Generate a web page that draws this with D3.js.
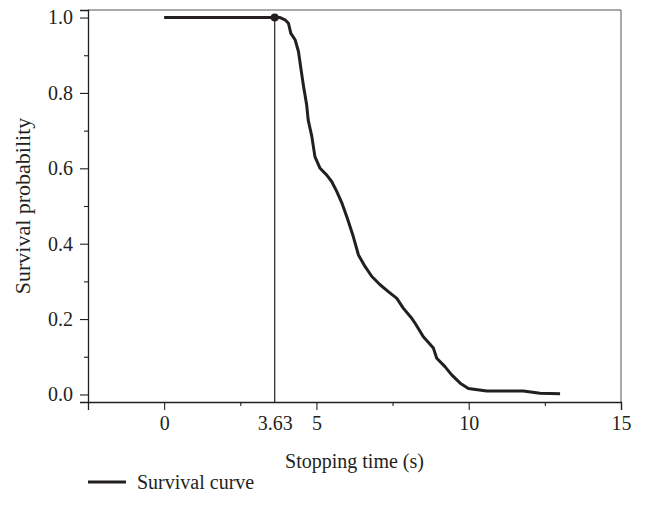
<!DOCTYPE html>
<html>
<head>
<meta charset="utf-8">
<script src="https://cdn.jsdelivr.net/npm/d3@7"></script>
<style>
  html, body { margin: 0; padding: 0; background: #fff; }
  svg { display: block; }
  text { font-family: "Liberation Serif", "DejaVu Serif", serif; fill: #231f20; }
</style>
</head>
<body>
<svg id="chart" width="645" height="510"></svg>
<script>
// ---- data ----
const timeValues = [0, 3.63, 3.81, 3.97, 4.08, 4.16, 4.30, 4.41, 4.49, 4.57, 4.68, 4.73, 4.85, 4.95,
  5.12, 5.34, 5.50, 5.67, 5.83, 6.02, 6.21, 6.38, 6.60, 6.82, 7.09, 7.36, 7.64, 7.85, 8.13, 8.24,
  8.51, 8.84, 8.95, 9.22, 9.44, 9.72, 9.99, 10.59, 11.79, 12.34, 13.0];
const survivalValues = [1.0, 1.0, 1.0, 0.994, 0.985, 0.958, 0.941, 0.910, 0.865, 0.821, 0.768, 0.728, 0.684, 0.631,
  0.600, 0.582, 0.565, 0.538, 0.509, 0.466, 0.419, 0.370, 0.339, 0.313, 0.291, 0.273, 0.255, 0.229, 0.202, 0.189,
  0.153, 0.123, 0.096, 0.074, 0.052, 0.030, 0.016, 0.009, 0.009, 0.003, 0.002];
const markerTime = 3.63;
const markerSurvival = 1.0;
const xTickValues = [0, 3.63, 5, 10, 15];
const xMinorTicks = [2.5, 7.5, 12.5];
const yTickValues = [0, 0.2, 0.4, 0.6, 0.8, 1.0];
const yMinorTicks = [0.1, 0.3, 0.5, 0.7, 0.9];
const xDomain = [-2.5, 15];
const yDomain = [-0.02, 1.02];
const xTitle = "Stopping time (s)";
const yTitle = "Survival probability";
const legendLabel = "Survival curve";

(function () {
  const ink = "#231f20";
  const font = "Liberation Serif";
  const mLeft = 88, mRight = 621, mTop = 10, mBottom = 402;
  const svg = d3.select("#chart");

  const x = d3.scaleLinear().domain(xDomain).range([mLeft, mRight]);
  const y = d3.scaleLinear().domain(yDomain).range([mBottom, mTop]);

  // frame (top and right)
  svg.append("path")
    .attr("d", `M${mLeft},${mTop}H${mRight}V${mBottom}`)
    .attr("fill", "none").attr("stroke", "#555").attr("stroke-width", 1);

  // x axis
  const xAxis = svg.append("g").attr("transform", `translate(0,${mBottom})`)
    .call(d3.axisBottom(x).tickValues(xTickValues).tickSize(8).tickPadding(6)
      .tickFormat(d => d === markerTime ? "3.63" : d3.format("d")(d)));
  xAxis.selectAll(".tick line").filter(d => d === markerTime).remove();
  svg.append("g").attr("transform", `translate(0,${mBottom})`)
    .call(d3.axisBottom(x).tickValues(xMinorTicks).tickSize(4).tickFormat(""))
    .select(".domain").remove();

  // y axis
  svg.append("g").attr("transform", `translate(${mLeft},0)`)
    .call(d3.axisLeft(y).tickValues(yTickValues).tickSize(8).tickPadding(7).tickFormat(d3.format(".1f")));
  svg.append("g").attr("transform", `translate(${mLeft},0)`)
    .call(d3.axisLeft(y).tickValues(yMinorTicks).tickSize(4).tickFormat(""))
    .select(".domain").remove();

  svg.selectAll(".domain").attr("stroke", ink).attr("stroke-width", 1.3);
  svg.selectAll(".tick line").attr("stroke", ink).attr("stroke-width", 1.1);
  svg.selectAll(".tick text").attr("font-size", 20).attr("font-family", font).attr("fill", ink);

  // vertical marker line
  svg.append("line")
    .attr("x1", x(markerTime)).attr("x2", x(markerTime))
    .attr("y1", y(markerSurvival)).attr("y2", mBottom)
    .attr("stroke", ink).attr("stroke-width", 1.2);

  // survival curve
  const pts = timeValues.map((t, i) => [t, survivalValues[i]]);
  svg.append("path")
    .datum(pts)
    .attr("fill", "none").attr("stroke", ink).attr("stroke-width", 3)
    .attr("stroke-linejoin", "round")
    .attr("d", d3.line().x(d => x(d[0])).y(d => y(d[1])).curve(d3.curveLinear));

  // marker dot
  svg.append("circle")
    .attr("cx", x(markerTime)).attr("cy", y(markerSurvival)).attr("r", 4)
    .attr("fill", ink);

  // axis titles
  svg.append("text")
    .attr("x", (mLeft + mRight) / 2).attr("y", 461).attr("dy", "0.35em")
    .attr("text-anchor", "middle").attr("font-size", 20).text(xTitle);
  svg.append("text")
    .attr("transform", `translate(22,${(mTop + mBottom) / 2}) rotate(-90)`)
    .attr("dy", "0.35em").attr("text-anchor", "middle").attr("font-size", 22).text(yTitle);

  // legend
  svg.append("line")
    .attr("x1", 88).attr("x2", 126).attr("y1", 482).attr("y2", 482)
    .attr("stroke", ink).attr("stroke-width", 3);
  svg.append("text")
    .attr("x", 137).attr("y", 482).attr("dy", "0.35em")
    .attr("font-size", 20).text(legendLabel);
})();
</script>
</body>
</html>
